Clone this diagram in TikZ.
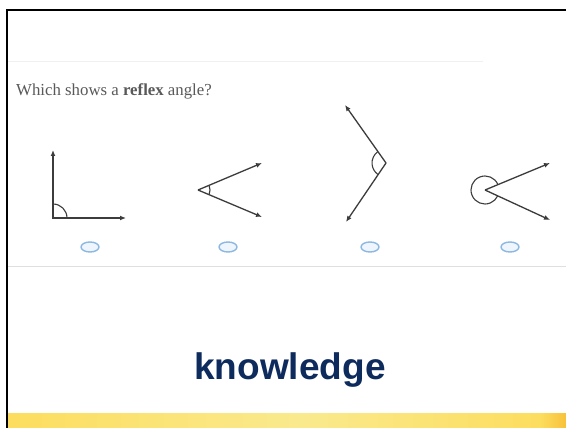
\documentclass[tikz,border=0pt]{standalone}
\usepackage{fontspec}
\setmainfont{Liberation Serif}
\newfontfamily\headfont{Liberation Sans}
\usetikzlibrary{arrows.meta,angles,shapes.geometric}
\definecolor{navy}{HTML}{0D2B5C}
\definecolor{ink}{HTML}{3C3C3C}
\definecolor{radioline}{HTML}{8DB8E2}
\definecolor{radiofill}{HTML}{EEF5FC}
\definecolor{bandA}{HTML}{FCDD5E}
\definecolor{bandB}{HTML}{FAEA8E}
\definecolor{bandC}{HTML}{F8C23A}
\begin{document}
\begin{tikzpicture}[x=1pt,y=1pt,
  arm/.style={-{Latex[length=6pt,width=5pt]},ink,line width=1.3pt},
  anglemark/.style={draw=ink,line width=1.1pt},
  radio/.style={ellipse,draw=radioline,fill=radiofill,line width=1.4pt,minimum width=18pt,minimum height=10pt,inner sep=0pt}
]
\useasboundingbox (0,0) rectangle (566,-428);
\fill[white] (0,0) rectangle (566,-428);

\draw[gray!12,line width=1pt] (8,-62) -- (483,-62);
\draw[gray!25,line width=1pt] (8,-266) -- (566,-266);

\node[anchor=base west,inner sep=0pt,text=ink!85,font=\fontsize{16.8}{19}\selectfont] (question) at (16,-96)
  {Which shows a \textbf{reflex} angle?};

% right angle
\coordinate (O1) at (53,-218);
\coordinate (T1) at (53,-150);
\coordinate (R1) at (126,-218);
\draw[arm,{Latex[length=6pt,width=5pt]}-{Latex[length=6pt,width=5pt]}] (T1) -- (O1) -- (R1);
\pic[anglemark,angle radius=14pt] {angle=R1--O1--T1};

% acute
\coordinate (O2) at (198,-190);
\coordinate (U2) at (262,-163);
\coordinate (D2) at (262,-217);
\draw[arm] (O2) -- (U2);
\draw[arm] (O2) -- (D2);
\pic[anglemark,angle radius=12pt] {angle=D2--O2--U2};

% obtuse
\coordinate (O3) at (386,-163);
\coordinate (U3) at (345,-105);
\coordinate (D3) at (346,-222);
\draw[arm] (O3) -- (U3);
\draw[arm] (O3) -- (D3);
\pic[anglemark,angle radius=14pt] {angle=U3--O3--D3};

% reflex
\coordinate (O4) at (485,-190);
\coordinate (U4) at (550,-163);
\coordinate (D4) at (550,-220);
\draw[arm] (O4) -- (U4);
\draw[arm] (O4) -- (D4);
\pic[anglemark,angle radius=14pt] {angle=U4--O4--D4};

\node[radio] (opt1) at (90,-247) {};
\node[radio] (opt2) at (228,-247) {};
\node[radio] (opt3) at (370,-247) {};
\node[radio] (opt4) at (510,-247) {};

\node[anchor=base,inner sep=0pt,text=navy,font=\headfont\bfseries\fontsize{37}{42}\selectfont] (title) at (290,-379) {knowledge};

\shade[left color=bandA,right color=bandB] (8,-413) rectangle (300,-428);
\shade[left color=bandB,right color=bandA] (300,-413) rectangle (540,-428);
\shade[left color=bandA,right color=bandC] (540,-413) rectangle (566,-428);

\draw[black,line width=2.5pt] (566,-10) -- (7,-10) -- (7,-428);
\end{tikzpicture}
\end{document}
